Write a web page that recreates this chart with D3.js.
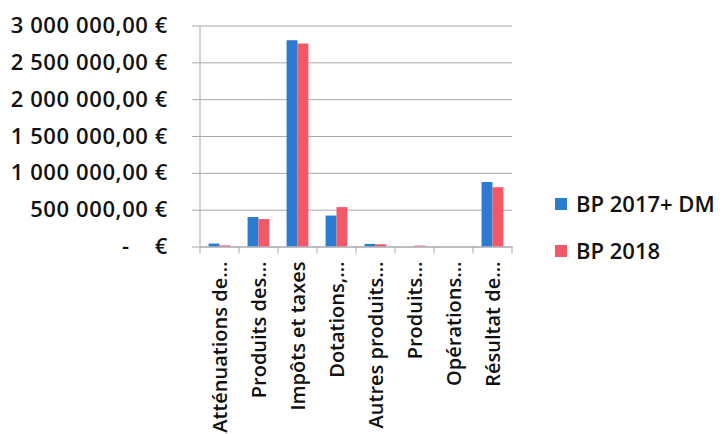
<!DOCTYPE html>
<html>
<head>
<meta charset="utf-8">
<script src="https://cdn.jsdelivr.net/npm/d3@7"></script>
<style>
  body { margin: 0; background: #fff; }
  text { font-family: "Open Sans", sans-serif; fill: #111; font-weight: 600; }
</style>
</head>
<body>
<script>
const categories = ["Atténuations de…", "Produits des…", "Impôts et taxes", "Dotations,…",
  "Autres produits…", "Produits…", "Opérations…", "Résultat de…"];
const seriesNames = ["BP 2017+ DM", "BP 2018"];
const bp2017 = [40000, 400000, 2800000, 420000, 35000, 0, 0, 875000];
const bp2018 = [15000, 372000, 2755000, 535000, 30000, 12000, 0, 805000];
const yTicks = [0, 500000, 1000000, 1500000, 2000000, 2500000, 3000000];
const colors = ["#2B7BD0", "#F25868"];

const width = 723;
const height = 434;
const marginTop = 25.5;
const marginRight = 211;
const marginBottom = 187.5;
const marginLeft = 200;

const x = d3.scaleBand()
    .domain(categories)
    .range([marginLeft, width - marginRight])
    .paddingInner(0.44)
    .paddingOuter(0.22);

const xs = d3.scaleBand()
    .domain(seriesNames)
    .range([0, x.bandwidth()]);

const y = d3.scaleLinear()
    .domain([0, 3000000])
    .range([height - marginBottom, marginTop]);

const svg = d3.select("body")
  .append("svg")
    .attr("width", width)
    .attr("height", height)
    .attr("viewBox", [0, 0, width, height]);

// gridlines + y labels
const fmt = d => d === 0 ? "-    €" :
  d3.format(",.2f")(d).replace(/,/g, " ").replace(".", ",") + " €";

svg.append("g")
    .attr("transform", `translate(${marginLeft},0)`)
    .call(d3.axisLeft(y).tickValues(yTicks).tickFormat(fmt)
      .tickSize(-(width - marginLeft - marginRight)).tickPadding(32))
    .call(g => g.select(".domain").remove())
    .call(g => g.selectAll(".tick line").attr("stroke", "#a8a8b0").attr("x1", -8))
    .call(g => g.selectAll(".tick text")
      .attr("font-size", 22)
      .attr("letter-spacing", 0.6)
      .attr("fill", "#111")
      .style("white-space", "pre")
      .attr("font-family", "Open Sans, sans-serif"));

// vertical axis line
svg.append("line")
    .attr("x1", marginLeft).attr("x2", marginLeft)
    .attr("y1", y(3000000)).attr("y2", y(0))
    .attr("stroke", "#a8a8b0");

// bars
const data = categories.map((c, i) => ({cat: c, values: [bp2017[i], bp2018[i]]}));

svg.append("g")
  .selectAll("g")
  .data(data)
  .join("g")
    .attr("transform", d => `translate(${x(d.cat)},0)`)
  .selectAll("rect")
  .data(d => d.values.map((v, j) => ({key: seriesNames[j], value: v, j})))
  .join("rect")
    .attr("x", d => xs(d.key))
    .attr("y", d => y(d.value))
    .attr("width", xs.bandwidth())
    .attr("height", d => y(0) - y(d.value))
    .attr("fill", d => colors[d.j]);

// x axis
svg.append("g")
    .attr("transform", `translate(0,${y(0)})`)
    .call(d3.axisBottom(x).tickSize(0).tickPadding(0))
    .call(g => g.select(".domain").attr("stroke", "#a8a8b0"))
    .call(g => g.selectAll(".tick text")
      .attr("font-size", 20)
      .attr("fill", "#111")
      .attr("font-family", "Open Sans, sans-serif")
      .attr("transform", "rotate(-90)")
      .attr("text-anchor", "end")
      .attr("dy", "0.35em")
      .attr("x", -15)
      .attr("y", 0));

// category boundary ticks
const bounds = d3.range(categories.length + 1).map(i => marginLeft + i * (width - marginLeft - marginRight) / categories.length);
svg.append("g")
  .selectAll("line")
  .data(bounds)
  .join("line")
    .attr("x1", d => d).attr("x2", d => d)
    .attr("y1", y(0)).attr("y2", y(0) + 7)
    .attr("stroke", "#a8a8b0");

// legend
const legend = svg.append("g")
  .selectAll("g")
  .data(seriesNames)
  .join("g")
    .attr("transform", (d, i) => `translate(555,${204 + i * 47})`);

legend.append("rect")
    .attr("x", 0).attr("y", -6)
    .attr("width", 12).attr("height", 12)
    .attr("fill", (d, i) => colors[i]);

legend.append("text")
    .attr("x", 21)
    .attr("dy", "0.35em")
    .attr("font-size", 22)
    .text(d => d);
</script>
</body>
</html>
